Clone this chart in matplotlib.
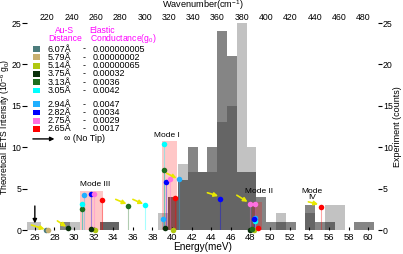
import matplotlib
matplotlib.use("Agg")
import matplotlib.pyplot as plt
import numpy as np

plt.rcParams["font.family"] = ["Liberation Sans", "DejaVu Sans"]
plt.rcParams["mathtext.default"] = "regular"

# experiment histograms (counts per 1 meV bin)
bin_edges = np.arange(24.6, 61.65, 1.0)
counts_a = [1, 1, 0, 0, 0, 1, 0, 0, 1, 1, 0, 0, 0, 0, 2, 4, 8, 7, 7, 7, 13, 15,
            25, 10, 0, 0, 2, 0, 0, 2, 0, 3, 3, 0, 0, 0, 0]
counts_b = [0, 0, 0, 0, 1, 0, 0, 0, 1, 1, 0, 0, 0, 0, 0, 4, 6, 10, 7, 10, 24, 21,
            7, 7, 4, 1, 1, 1, 0, 3, 1, 1, 0, 0, 1, 1, 0]

# vibrational mode windows
mode_names = ["Mode III", "Mode I", "Mode II", "Mode\nIV"]
mode_lo = [30.6, 38.99, 48.15]
mode_hi = [33.0, 40.46, 49.15]
mode_top = [4.7, 10.7, 3.4]
mode_label_pos = [(32.1, 5.45), (39.5, 11.4), (48.85, 4.6), (54.3, 4.3)]

# theory: Au-S distance, elastic conductance, colour, (energy, intensity) peaks
distances = ["6.07Å", "5.79Å", "5.14Å", "3.75Å", "3.13Å", "3.05Å",
             "2.94Å", "2.82Å", "2.75Å", "2.65Å"]
conductances = ["0.000000005", "0.00000002", "0.00000065", "0.00032", "0.0036",
                "0.0042", "0.0047", "0.0034", "0.0029", "0.0017"]
colors = ["#4c7c7c", "#c8b070", "#b0c810", "#0a300a", "#1e6e1e", "#00ffff",
          "#20b0ff", "#0000ff", "#ff70e0", "#ff0000"]
peak_e = [
    [27.1],
    [27.3],
    [32.1, 40.05, 48.35],
    [29.4, 31.7, 39.3, 47.9],
    [30.8, 35.55, 39.2, 48.1],
    [30.8, 37.25, 39.2, 48.45],
    [31.0, 39.1, 40.7, 48.5],
    [31.7, 39.35, 44.9, 48.35],
    [32.0, 39.8, 47.9, 48.45],
    [32.85, 40.25, 48.8, 55.15],
]
peak_i = [
    [0.05],
    [0.05],
    [0.0, 0.0, 0.0],
    [0.2, 0.1, 0.2, 0.05],
    [2.5, 2.9, 7.2, 0.1],
    [3.1, 3.0, 10.35, 1.1],
    [4.2, 1.3, 6.1, 1.4],
    [4.4, 5.75, 3.8, 1.3],
    [4.35, 6.1, 3.1, 3.1],
    [3.6, 3.9, 0.2, 2.8],
]

# yellow pointer arrows (tail, head)
pointers = [((25.66, 0.6), (27.0, 0.1)), ((28.3, 1.1), (29.2, 0.4)),
            ((34.25, 3.7), (35.35, 3.15)), ((36.0, 3.7), (37.05, 3.15)),
            ((39.45, 6.85), (40.46, 6.25)), ((43.6, 4.5), (44.7, 4.1)),
            ((46.6, 4.2), (47.7, 3.4)), ((53.9, 3.4), (54.9, 3.1))]

fig = plt.figure(figsize=(4.03, 2.54), dpi=100)
ax = fig.add_axes([27 / 403, 24 / 254, 351 / 403, 207 / 254])
ax2 = ax.twinx()
ax.set_zorder(ax2.get_zorder() + 1)
ax.patch.set_visible(False)

ax2.stairs(counts_a, bin_edges, fill=True, color="k", alpha=0.24, linewidth=0)
ax2.stairs(counts_b, bin_edges, fill=True, color="k", alpha=0.48, linewidth=0)

ax.bar(mode_lo, mode_top, width=np.subtract(mode_hi, mode_lo), align="edge",
       color="red", alpha=0.22, linewidth=0, zorder=1)
for name, (x, y) in zip(mode_names, mode_label_pos):
    ax.text(x, y, name, fontsize=6, ha="center", va="center", linespacing=0.9)

for c, es, vs in zip(colors, peak_e, peak_i):
    for e, v in zip(es, vs):
        ax.plot([e, e], [0, v], color=c, alpha=0.35, lw=0.8, zorder=2)
for c, es, vs in zip(colors, peak_e, peak_i):
    ax.plot(es, vs, "o", color=c, ms=4, mew=0, zorder=4, clip_on=False)

for tail, head in pointers:
    ax.annotate("", xy=head, xytext=tail, zorder=3,
                arrowprops=dict(arrowstyle="-|>", color="#e8e800", lw=1.2,
                                mutation_scale=6, shrinkA=0, shrinkB=0))
ax.annotate("", xy=(26.0, 0.8), xytext=(26.0, 2.9),
            arrowprops=dict(arrowstyle="-|>", color="k", lw=1, mutation_scale=6,
                            shrinkA=0, shrinkB=0))

# legend table
ax.text(29.06, 24.15, "Au-S", color="#ff00ff", fontsize=6.2, ha="center", va="center")
ax.text(29.06, 23.1, "Distance", color="#ff00ff", fontsize=6.2, ha="center", va="center")
ax.text(32.84, 24.15, "Elastic", color="#ff00ff", fontsize=6.2, ha="center", va="center")
ax.text(35.03, 23.1, "Conductance(g$_0$)", color="#ff00ff", fontsize=6.2,
        ha="center", va="center")
for k, (d, g, c) in enumerate(zip(distances, conductances, colors)):
    y = 21.85 - k - (0.65 if k >= 6 else 0)
    ax.add_patch(plt.Rectangle((25.8, y - 0.35), 0.7, 0.7, color=c, lw=0))
    ax.text(27.33, y, d, fontsize=6.5, va="center")
    ax.text(31.0, y, "-", fontsize=6.5, va="center", ha="center")
    ax.text(31.9, y, g, fontsize=6.5, va="center")
ax.annotate("", xy=(28.0, 11.0), xytext=(25.8, 11.0),
            arrowprops=dict(arrowstyle="-|>", color="k", lw=1, mutation_scale=6,
                            shrinkA=0, shrinkB=0))
ax.text(28.96, 11.0, "∞ (No Tip)", fontsize=6.5, va="center")

ax.set_xlim(25.2, 61.0)
ax.set_ylim(0, 25)
ax2.set_ylim(0, 25)
for a in (ax, ax2):
    for s in a.spines.values():
        s.set_visible(False)

ax.set_xticks(np.arange(26, 61, 2))
ax.set_yticks(np.arange(0, 26, 5))
ax2.set_yticks(np.arange(0, 26, 5))
ax.tick_params(axis="x", direction="in", length=2.5, labelsize=6.8, pad=2)
ax.tick_params(axis="y", direction="out", length=3.5, labelsize=6.3, pad=0.5)
ax2.tick_params(axis="y", direction="out", length=3, labelsize=6.3, pad=0.5)

secax = ax.secondary_xaxis("top", functions=(lambda e: e * 8.0655, lambda w: w / 8.0655))
secax.spines["top"].set_visible(False)
secax.set_xticks(np.arange(220, 481, 20))
secax.set_xticks(np.arange(220, 481, 40), minor=True)
secax.tick_params(axis="x", which="major", length=0, labelsize=6.3, pad=1)
secax.tick_params(axis="x", which="minor", direction="in", length=3)

ax.set_xlabel("Energy(meV)", fontsize=7.2, labelpad=0)
ax.text(0.5, 1 + 17.5 / 207, "Wavenumber(cm$^{-1}$)", fontsize=6.6,
        ha="center", va="center", transform=ax.transAxes)
ax.text(-21.5 / 351, 0.5, "Theoretical IETS Intensity (10$^{-6}$ g$_0$)", fontsize=6.2,
        rotation=90, ha="center", va="center", transform=ax.transAxes)
ax.text(1 + 19 / 351, 0.5, "Experiment (counts)", fontsize=6.5,
        rotation=90, ha="center", va="center", transform=ax.transAxes)

fig.savefig("out.png", dpi=100)
